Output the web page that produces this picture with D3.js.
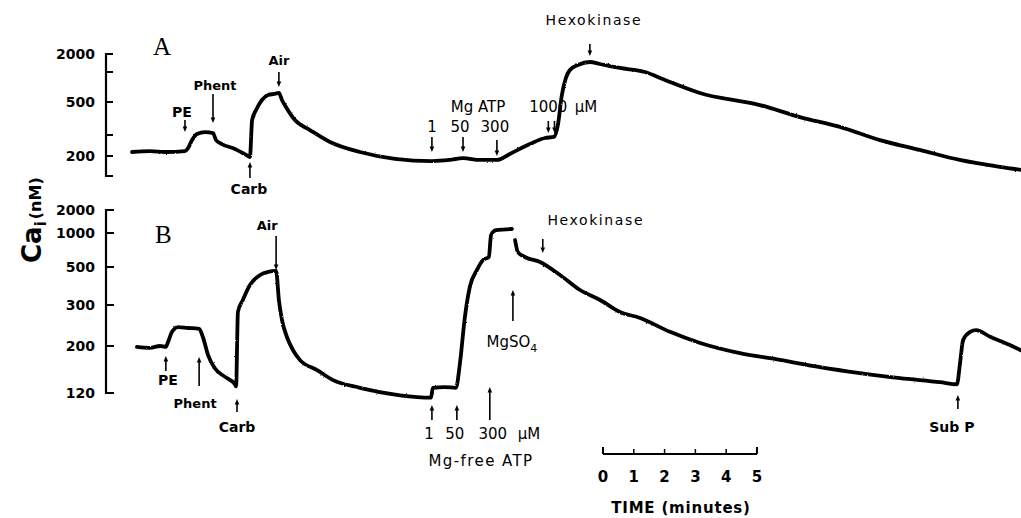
<!DOCTYPE html>
<html>
<head>
<meta charset="utf-8">
<script src="https://cdn.jsdelivr.net/npm/d3@7"></script>
<style>
  html, body { margin: 0; padding: 0; background: #fff; }
  svg { display: block; }
  text { font-family: "DejaVu Sans", sans-serif; fill: #000; }
</style>
</head>
<body>
<svg id="chart" width="1021" height="518"></svg>
<script>
// ---- Panel A: cytosolic Ca2+ (nM) over time (min) ----
const timeA = [0, 0.58, 1.07, 1.72, 1.82, 1.95, 2.11, 2.37, 2.63, 2.73,
  2.92, 3.34, 3.77, 3.83, 3.90, 4.03, 4.22, 4.42, 4.61, 4.77,
  4.87, 5.00, 5.29, 5.78, 6.43, 7.40, 8.54, 9.74, 10.32, 10.75,
  11.30, 11.85, 12.27, 12.92, 13.41, 13.70, 13.83, 13.96, 14.09, 14.22,
  14.48, 14.87, 15.19, 15.84, 16.66, 17.31, 18.44, 20.39, 21.69, 22.99,
  24.29, 25.58, 26.88, 28.18, 28.86];
const caA = [216, 220, 216, 220, 233, 272, 305, 314, 309, 272,
  252, 229, 200, 197, 378, 442, 524, 588, 602, 616,
  524, 463, 378, 324, 262, 216, 192, 186, 189, 194,
  189, 189, 208, 252, 283, 289, 350, 588, 871, 1080,
  1309, 1470, 1361, 1167, 1000, 831, 616, 477, 396, 340,
  272, 225, 189, 171, 164];

// ---- Panel B (null = break in the recording) ----
const timeB = [0.16, 0.58, 0.91, 1.10, 1.17, 1.30, 1.49, 1.82, 2.18, 2.31,
  2.47, 2.69, 3.02, 3.34, 3.38, 3.44, 3.60, 3.83, 4.16, 4.42,
  4.68, 4.77, 4.87, 5.03, 5.23, 5.45, 6.01, 6.53, 7.40, 8.70,
  9.71, 9.77, 10.16, 10.52, 10.65, 10.81, 10.97, 11.20, 11.40, 11.59,
  11.66, 11.82, 12.34, 12.39, 12.44, 12.53, 12.76, 13.25, 13.90, 14.55,
  15.20, 15.84, 16.50, 17.47, 18.45, 19.74, 21.04, 22.34, 23.64, 24.94,
  26.24, 26.79, 26.89, 26.99, 27.22, 27.41, 27.87, 28.51, 28.86];
const caB = [198, 196, 200, 198, 208, 230, 241, 239, 237, 217,
  181, 157, 143, 132, 129, 280, 321, 392, 449, 468,
  474, 321, 259, 219, 191, 172, 154, 138, 127, 117,
  114, 127, 128, 127, 166, 266, 382, 480, 577, 613,
  960, 1094, 1128, null, 867, 679, 613, 554, 449, 367,
  321, 280, 264, 230, 206, 185, 172, 159, 149, 141,
  135, 132, 166, 212, 230, 234, 219, 202, 191];

// ---- Calibrated (non-linear) Ca axes ----
const ticksA = [2000, 1000, 500, 300, 200, 150];
const labelsA = [2000, 500, 200];
const ticksB = [2000, 1000, 500, 300, 200, 120];
const labelsB = [2000, 1000, 500, 300, 200, 120];

// ---- Additions marked on each trace ----
const eventsA = [
  { text: "PE", t: 1.72 }, { text: "Phent", t: 2.63 }, { text: "Carb", t: 3.83 },
  { text: "Air", t: 4.77 }, { text: "1", t: 9.74 }, { text: "50", t: 10.75 },
  { text: "300", t: 11.85 }, { text: "1000", t: 13.52 }, { text: "", t: 13.72 },
  { text: "Hexokinase", t: 14.87 }
];
const eventsB = [
  { text: "PE", t: 1.10 }, { text: "Phent", t: 2.18 }, { text: "Carb", t: 3.41 },
  { text: "Air", t: 4.68 }, { text: "1", t: 9.74 }, { text: "50", t: 10.55 },
  { text: "300", t: 11.62 }, { text: "MgSO", sub: "4", t: 12.37 },
  { text: "Hexokinase", t: 13.34 }, { text: "Sub P", t: 26.82 }
];
const scaleBarMinutes = [0, 1, 2, 3, 4, 5];

// ---- Layout ----
const svg = d3.select("#chart");
const x = d3.scaleLinear().domain([0, 29]).range([132, 1025]);
const yA = d3.scaleLog().domain([150, 200, 300, 500, 1000, 2000]).range([176, 156, 135, 102, 72, 54]);
const yB = d3.scaleLog().domain([120, 200, 300, 500, 1000, 2000]).range([393, 346, 305, 267, 233, 210]);

// slight roughness of the recorder pen
const defs = svg.append("defs");
const f = defs.append("filter").attr("id", "pen")
  .attr("x", "-2%").attr("y", "-10%").attr("width", "104%").attr("height", "120%");
f.append("feTurbulence").attr("type", "fractalNoise").attr("baseFrequency", 0.9)
  .attr("numOctaves", 2).attr("seed", 3).attr("result", "n");
f.append("feDisplacementMap").attr("in", "SourceGraphic").attr("in2", "n")
  .attr("scale", 1.8).attr("xChannelSelector", "R").attr("yChannelSelector", "G");

// arrow tail / tip, label x offset and label baseline, per event
const layoutA = [
  { tail: 120, tip: 132, dx: -3, ly: 117, w: "bold", fs: 14 },
  { tail: 94, tip: 123, dx: 2, ly: 90, w: "bold", fs: 13 },
  { tail: 178, tip: 162, dx: -1, ly: 194, w: "bold", fs: 14 },
  { tail: 72, tip: 87, dx: 0, ly: 65, w: "bold", fs: 13 },
  { tail: 137, tip: 152, dx: 0, ly: 132, w: "normal", fs: 15 },
  { tail: 137, tip: 152, dx: -3, ly: 132, w: "normal", fs: 15 },
  { tail: 140, tip: 156, dx: -2, ly: 132, w: "normal", fs: 15 },
  { tail: 121, tip: 133, dx: 0, ly: 112, w: "normal", fs: 15 },
  { tail: 121, tip: 133, dx: 0, ly: 112, w: "normal", fs: 15 },
  { tail: 44, tip: 56, dx: 4, ly: 25, w: "normal", fs: 14, ls: 1.6 }
];
const layoutB = [
  { tail: 371, tip: 356, dx: 2, ly: 385, w: "bold", fs: 14 },
  { tail: 386, tip: 357, dx: -4, ly: 408, w: "bold", fs: 13 },
  { tail: 412, tip: 399, dx: 0, ly: 432, w: "bold", fs: 14 },
  { tail: 236, tip: 270, dx: -9, ly: 230, w: "bold", fs: 13 },
  { tail: 420, tip: 405, dx: -3, ly: 439, w: "normal", fs: 15 },
  { tail: 420, tip: 405, dx: -2, ly: 439, w: "normal", fs: 15 },
  { tail: 420, tip: 387, dx: 3, ly: 439, w: "normal", fs: 15 },
  { tail: 321, tip: 290, dx: -1, ly: 347, w: "normal", fs: 15 },
  { tail: 239, tip: 253, dx: 53, ly: 225, w: "normal", fs: 14, ls: 1.6 },
  { tail: 409, tip: 395, dx: -6, ly: 432, w: "bold", fs: 14 }
];

function drawTrace(times, values, y) {
  const pts = times.map((t, i) => ({ t, v: values[i] }));
  const line = d3.line()
    .defined(d => d.v != null)
    .x(d => x(d.t))
    .y(d => y(d.v))
    .curve(d3.curveMonotoneX);
  svg.append("path")
    .datum(pts)
    .attr("d", line)
    .attr("fill", "none")
    .attr("stroke", "#000")
    .attr("stroke-width", 3.8)
    .attr("stroke-linejoin", "round")
    .attr("stroke-linecap", "round")
    .attr("filter", "url(#pen)");
}

function drawYAxis(y, ticks, labels, tickLen) {
  const g = svg.append("g");
  const ext = d3.extent(ticks).map(y);
  g.append("line")
    .attr("x1", 106).attr("x2", 106)
    .attr("y1", d3.min(ext) - 1).attr("y2", d3.max(ext) + 1)
    .attr("stroke", "#000").attr("stroke-width", 2.2);
  g.selectAll("line.tick").data(ticks).join("line")
    .attr("class", "tick")
    .attr("x1", 105).attr("x2", 106 + tickLen)
    .attr("y1", d => y(d)).attr("y2", d => y(d))
    .attr("stroke", "#000").attr("stroke-width", 2);
  g.selectAll("text").data(labels).join("text")
    .attr("x", 95).attr("y", d => y(d))
    .attr("dy", "0.36em")
    .attr("text-anchor", "end")
    .attr("font-size", 14).attr("font-weight", "bold")
    .text(d => d);
}

function drawArrow(xp, tail, tip) {
  const s = Math.sign(tip - tail);
  svg.append("line")
    .attr("x1", xp).attr("x2", xp)
    .attr("y1", tail).attr("y2", tip - s * 3)
    .attr("stroke", "#000").attr("stroke-width", 1.6);
  svg.append("path")
    .attr("d", `M${xp},${tip} L${xp - 2.3},${tip - s * 5.5} L${xp + 2.3},${tip - s * 5.5} Z`)
    .attr("fill", "#000");
}

function drawEvents(events, layout) {
  events.forEach((e, i) => {
    const L = layout[i];
    const xp = x(e.t);
    drawArrow(xp, L.tail, L.tip);
    if (e.text) {
      const t = svg.append("text")
        .attr("x", xp + L.dx).attr("y", L.ly)
        .attr("text-anchor", "middle")
        .attr("font-size", L.fs).attr("font-weight", L.w)
        .attr("letter-spacing", L.ls || 0)
        .text(e.text);
      if (e.sub) t.append("tspan").attr("font-size", 11).attr("dy", 5).text(e.sub);
    }
  });
}

function plainText(str, xp, yp, size, weight, spacing) {
  return svg.append("text")
    .attr("x", xp).attr("y", yp)
    .attr("text-anchor", "middle")
    .attr("font-size", size).attr("font-weight", weight || "normal")
    .attr("letter-spacing", spacing || 0)
    .text(str);
}

// axes
drawYAxis(yA, ticksA, labelsA, 7);
drawYAxis(yB, ticksB, labelsB, 8);

// traces
drawTrace(timeA, caA, yA);
drawTrace(timeB, caB, yB);

// additions
drawEvents(eventsA, layoutA);
drawEvents(eventsB, layoutB);
plainText("Mg ATP", 478, 112, 15);
plainText("\u03bcM", 586, 112, 15);
plainText("\u03bcM", 529, 439, 15);
plainText("Mg-free ATP", 481, 466, 15, "normal", 1.4);

// panel letters
svg.append("text").attr("x", 153).attr("y", 55)
  .style("font-family", "'Liberation Serif', serif").attr("font-size", 25).text("A");
svg.append("text").attr("x", 155).attr("y", 243)
  .style("font-family", "'Liberation Serif', serif").attr("font-size", 25).text("B");

// y-axis title
const yt = svg.append("text")
  .attr("transform", "translate(41,263) rotate(-90)")
  .attr("font-weight", "bold");
yt.append("tspan").attr("font-size", 26).text("Ca");
yt.append("tspan").attr("font-size", 15).attr("dy", 5).text("i");
yt.append("tspan").attr("font-size", 16).attr("dy", -5).attr("dx", 2).text("(nM)");

// time scale bar
const bar = d3.scaleLinear().domain([0, 5]).range([603, 603 + x(5) - x(0)]);
const sb = svg.append("g");
sb.append("line")
  .attr("x1", bar(0)).attr("x2", bar(5)).attr("y1", 454).attr("y2", 454)
  .attr("stroke", "#000").attr("stroke-width", 2);
sb.selectAll("line.t").data(scaleBarMinutes).join("line")
  .attr("class", "t")
  .attr("x1", d => bar(d)).attr("x2", d => bar(d))
  .attr("y1", d => (d === 0 || d === 5) ? 447 : 449).attr("y2", 454)
  .attr("stroke", "#000").attr("stroke-width", d => (d === 0 || d === 5) ? 2 : 1.5);
sb.selectAll("text").data(scaleBarMinutes).join("text")
  .attr("x", d => bar(d)).attr("y", 482)
  .attr("text-anchor", "middle")
  .attr("font-size", 15).attr("font-weight", "bold")
  .text(d => d);
plainText("TIME (minutes)", 681, 513, 15, "bold", 0.8);
</script>
</body>
</html>
